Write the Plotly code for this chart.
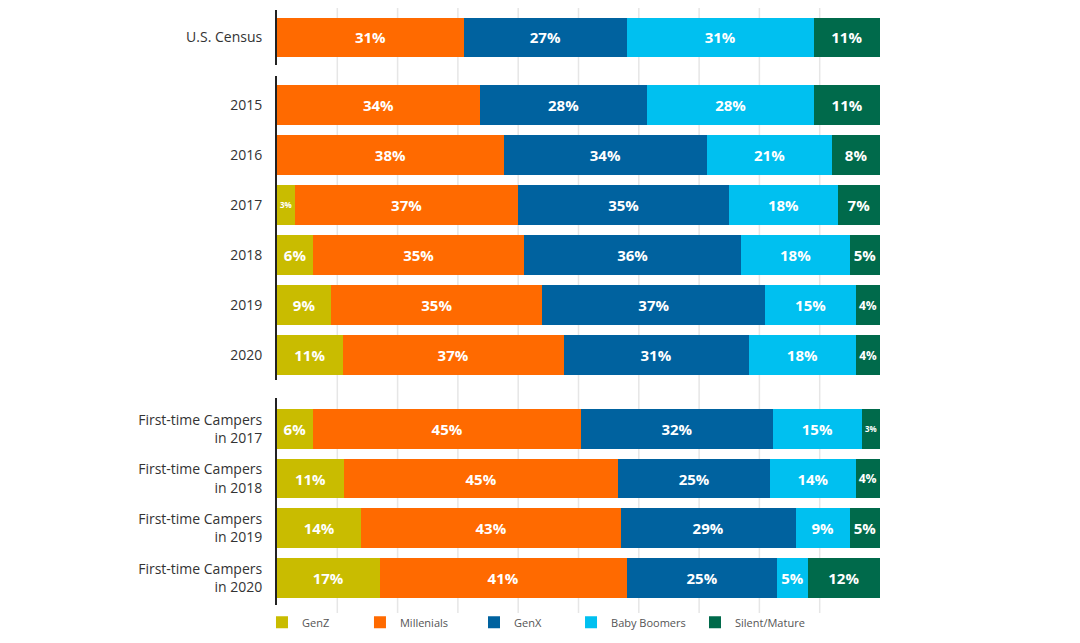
import plotly.graph_objects as go

# ---- data ----
rows = ["U.S. Census", "2015", "2016", "2017", "2018", "2019", "2020",
        "First-time Campers<br>in 2017", "First-time Campers<br>in 2018",
        "First-time Campers<br>in 2019", "First-time Campers<br>in 2020"]
group_sizes = [1, 6, 4]
series_names = ["GenZ", "Millenials", "GenX", "Baby Boomers", "Silent/Mature"]
genz = [0, 0, 0, 3, 6, 9, 11, 6, 11, 14, 17]
millenials = [31, 34, 38, 37, 35, 35, 37, 45, 45, 43, 41]
genx = [27, 28, 34, 35, 36, 37, 31, 32, 25, 29, 25]
boomers = [31, 28, 21, 18, 18, 15, 18, 15, 14, 9, 5]
silent = [11, 11, 8, 7, 5, 4, 4, 3, 4, 5, 12]
grid_values = [10, 20, 30, 40, 50, 60, 70, 80, 90]

series = [genz, millenials, genx, boomers, silent]
colors = ["#C9BC00", "#FF6A00", "#00629F", "#00C0F0", "#006A4B"]

# ---- layout styling ----
domains = [[0.9076, 1.0], [0.378, 0.889], [0.0, 0.348]]
ranges = [[0.55, -0.55], [5.5, -0.58], [3.54, -0.62]]
legend_x = [-0.0249, 0.1376, 0.3267, 0.4876, 0.6932]
FONT = "Open Sans"

fig = go.Figure()
start = 0
for gi, n in enumerate(group_sizes):
    cats = rows[start:start + n]
    ax = "" if gi == 0 else str(gi + 1)
    for si, name in enumerate(series_names):
        vals = series[si][start:start + n]
        fig.add_trace(go.Bar(
            y=cats, x=vals, orientation="h", name=name,
            marker=dict(color=colors[si], line=dict(width=0)),
            text=[f"{v}%" if v else "" for v in vals],
            textposition="inside", insidetextanchor="middle", textangle=0,
            textfont=dict(color="white", size=15, family=FONT, weight="bold"),
            xaxis="x" + ax, yaxis="y" + ax,
            legendgroup=name, showlegend=(gi == 2),
            legend="legend" if si == 0 else f"legend{si + 1}",
            width=0.8,
        ))
    start += n

lay = dict(
    barmode="stack", barnorm="percent",
    width=1080, height=643,
    margin=dict(l=269, r=208, t=2, b=46),
    plot_bgcolor="white", paper_bgcolor="white",
    font=dict(family=FONT, color="#333333", size=14),
)
for li, lx in enumerate(legend_x):
    key = "legend" if li == 0 else f"legend{li + 1}"
    lay[key] = dict(orientation="h", x=lx, xanchor="left", y=-0.029, yanchor="middle",
                    font=dict(size=11, color="#555555", family=FONT),
                    bgcolor="rgba(0,0,0,0)")
for gi in range(3):
    ax = "" if gi == 0 else str(gi + 1)
    lay["xaxis" + ax] = dict(range=[0, 100], domain=[0, 1], showgrid=False,
                             showticklabels=False, zeroline=False, showline=False,
                             anchor="y" + ax, fixedrange=True)
    lay["yaxis" + ax] = dict(type="category", domain=domains[gi], range=ranges[gi],
                             showline=True, linecolor="#222222", linewidth=2,
                             showgrid=False, zeroline=False, ticks="",
                             ticklabelstandoff=10, anchor="x" + ax,
                             tickfont=dict(size=14, color="#333333", family=FONT))
fig.update_layout(**lay)

for gv in grid_values:
    fig.add_shape(type="line", xref="x", yref="paper", x0=gv, x1=gv,
                  y0=-0.0134, y1=1.0168, layer="below",
                  line=dict(color="#E6E6E6", width=1.5))

fig.write_html("out.html")
